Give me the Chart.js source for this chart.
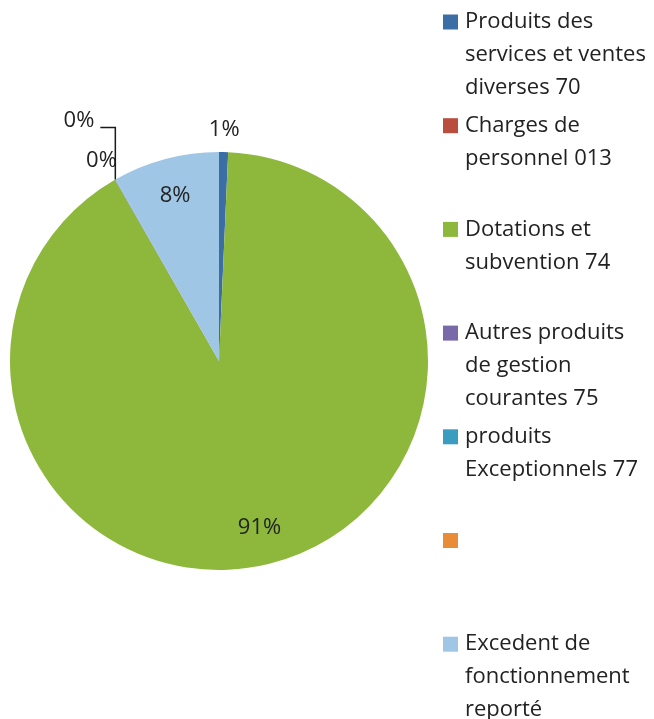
<!DOCTYPE html>
<html>
<head>
<meta charset="utf-8">
<script src="https://cdn.jsdelivr.net/npm/chart.js@4/dist/chart.umd.min.js"></script>
<style>
    html, body { margin: 0; padding: 0; background: #fff; }
    .wrap { position: relative; width: 654px; height: 719px; }
</style>
</head>
<body>
<div class="wrap"><canvas id="pieChart"></canvas></div>
<script>
/* data */
const categories = [
    ['Produits des', 'services et ventes', 'diverses 70'],
    ['Charges de', 'personnel 013'],
    ['Dotations et', 'subvention 74'],
    ['Autres produits', 'de gestion', 'courantes 75'],
    ['produits', 'Exceptionnels 77'],
    [''],
    ['Excedent de', 'fonctionnement', 'reporté']
];
const values = [1.4, 0, 182, 0.06, 0.04, 0, 16.5];
const sliceColors = ['#3c6ea6', '#b94e3e', '#8db83b', '#7a69a8', '#3a9dc0', '#e88c38', '#a0c6e6'];

const textColor = '#222';
const labelFont = '22px "Open Sans"';

/* percentage labels on the slices */
const pctLabels = {
    id: 'pctLabels',
    afterDatasetsDraw(chart) {
        const ctx = chart.ctx;
        const meta = chart.getDatasetMeta(0);
        const data = chart.data.datasets[0].data;
        const total = data.reduce((a, b) => a + b, 0);
        const placed = [];
        ctx.save();
        ctx.font = labelFont;
        ctx.fillStyle = textColor;
        ctx.strokeStyle = '#1a1a1a';
        ctx.lineWidth = 1.5;
        ctx.textAlign = 'center';
        ctx.textBaseline = 'middle';
        meta.data.forEach(function(arc, i) {
            const v = data[i];
            if (!v) return;
            const pct = v / total * 100;
            const txt = Math.round(pct) + '%';
            const p = arc.getProps(['x', 'y', 'startAngle', 'endAngle', 'outerRadius'], true);
            const mid = (p.startAngle + p.endAngle) / 2;
            const ux = Math.cos(mid), uy = Math.sin(mid);
            if (pct >= 3) {
                ctx.fillText(txt, p.x + ux * p.outerRadius * 0.82, p.y + uy * p.outerRadius * 0.82);
                return;
            }
            const w = ctx.measureText(txt).width, h = 20;
            let d = p.outerRadius + 12;
            let cx, cy;
            const setPos = function() {
                cx = p.x + ux * d + ux * w / 2;
                cy = p.y + uy * d + uy * h / 2;
            };
            setPos();
            let moved = false;
            while (placed.some(b => Math.abs(b.x - cx) < (b.w + w) / 2 + 4 && Math.abs(b.y - cy) < h * 2)) {
                d += 2;
                setPos();
                moved = true;
            }
            placed.push({ x: cx, y: cy, w: w });
            if (moved) {
                const ex = p.x + ux * p.outerRadius, ey = p.y + uy * p.outerRadius;
                const side = ux < 0 ? 1 : -1;
                ctx.beginPath();
                ctx.moveTo(ex, ey);
                ctx.lineTo(ex, cy + 7);
                ctx.lineTo(cx + side * (w / 2 + 6), cy + 7);
                ctx.stroke();
            }
            ctx.fillText(txt, cx, cy);
        });
        ctx.restore();
    }
};

/* legend at the right, one slot per category */
const sideLegend = {
    id: 'sideLegend',
    afterDraw(chart, args, opts) {
        const ctx = chart.ctx;
        const colors = chart.data.datasets[0].backgroundColor;
        ctx.save();
        ctx.font = labelFont;
        ctx.textAlign = 'left';
        ctx.textBaseline = 'middle';
        chart.data.labels.forEach(function(lines, i) {
            const y = opts.top + i * opts.step;
            ctx.fillStyle = colors[i];
            ctx.fillRect(opts.boxX, y - 7.5, 15, 15);
            ctx.fillStyle = textColor;
            lines.forEach(function(ln, j) {
                ctx.fillText(ln, opts.textX, y + j * opts.lineHeight);
            });
        });
        ctx.restore();
    }
};

document.fonts.load(labelFont).then(function() {
    const ctx = document.getElementById('pieChart').getContext('2d');
    const chart = new Chart(ctx, {
        type: 'pie',
        data: {
            labels: categories,
            datasets: [{
                data: values,
                backgroundColor: sliceColors,
                borderWidth: 0
            }]
        },
        options: {
            responsive: true,
            maintainAspectRatio: false,
            animation: false,
            layout: {
                padding: { left: 10, right: 226, top: 152, bottom: 149 }
            },
            plugins: {
                legend: { display: false },
                tooltip: { enabled: false },
                sideLegend: { top: 22, step: 103.7, boxX: 443, textX: 465, lineHeight: 33 }
            }
        },
        plugins: [pctLabels, sideLegend]
    });
});
</script>
</body>
</html>
